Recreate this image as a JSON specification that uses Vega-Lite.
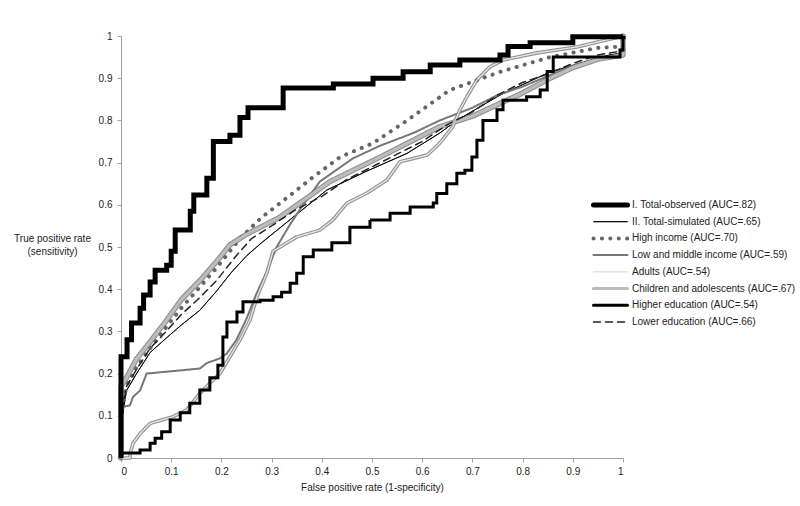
{
  "$schema": "https://vega.github.io/schema/vega-lite/v6.json",
  "width": 502,
  "height": 422,
  "autosize": "none",
  "padding": {"left": 121, "top": 36, "right": 177, "bottom": 48},
  "background": "white",
  "config": {
    "view": {"stroke": null},
    "font": "Liberation Sans",
    "axis": {
      "grid": false,
      "domainColor": "#a0a0a0",
      "tickColor": "#a0a0a0",
      "tickSize": 4,
      "labelColor": "#222",
      "labelFontSize": 10,
      "labelFont": "Liberation Sans",
      "titleFont": "Liberation Sans",
      "titleFontSize": 10,
      "titleFontWeight": "normal",
      "titleColor": "#222"
    }
  },
  "datasets": {
    "roc": [
      {"s": "I. Total-observed (AUC=.82)", "x": 0, "y": 0},
      {"s": "I. Total-observed (AUC=.82)", "x": 0, "y": 0.24},
      {"s": "I. Total-observed (AUC=.82)", "x": 0.012, "y": 0.28},
      {"s": "I. Total-observed (AUC=.82)", "x": 0.021, "y": 0.32},
      {"s": "I. Total-observed (AUC=.82)", "x": 0.038, "y": 0.355},
      {"s": "I. Total-observed (AUC=.82)", "x": 0.045, "y": 0.386},
      {"s": "I. Total-observed (AUC=.82)", "x": 0.058, "y": 0.417},
      {"s": "I. Total-observed (AUC=.82)", "x": 0.068, "y": 0.445},
      {"s": "I. Total-observed (AUC=.82)", "x": 0.091, "y": 0.457},
      {"s": "I. Total-observed (AUC=.82)", "x": 0.1, "y": 0.49},
      {"s": "I. Total-observed (AUC=.82)", "x": 0.108, "y": 0.54},
      {"s": "I. Total-observed (AUC=.82)", "x": 0.138, "y": 0.585},
      {"s": "I. Total-observed (AUC=.82)", "x": 0.145, "y": 0.623},
      {"s": "I. Total-observed (AUC=.82)", "x": 0.171, "y": 0.663},
      {"s": "I. Total-observed (AUC=.82)", "x": 0.184, "y": 0.75},
      {"s": "I. Total-observed (AUC=.82)", "x": 0.217, "y": 0.765},
      {"s": "I. Total-observed (AUC=.82)", "x": 0.237, "y": 0.807},
      {"s": "I. Total-observed (AUC=.82)", "x": 0.253, "y": 0.83},
      {"s": "I. Total-observed (AUC=.82)", "x": 0.323, "y": 0.877},
      {"s": "I. Total-observed (AUC=.82)", "x": 0.423, "y": 0.886},
      {"s": "I. Total-observed (AUC=.82)", "x": 0.502, "y": 0.9},
      {"s": "I. Total-observed (AUC=.82)", "x": 0.562, "y": 0.915},
      {"s": "I. Total-observed (AUC=.82)", "x": 0.616, "y": 0.931},
      {"s": "I. Total-observed (AUC=.82)", "x": 0.675, "y": 0.943},
      {"s": "I. Total-observed (AUC=.82)", "x": 0.755, "y": 0.955},
      {"s": "I. Total-observed (AUC=.82)", "x": 0.771, "y": 0.975},
      {"s": "I. Total-observed (AUC=.82)", "x": 0.815, "y": 0.984},
      {"s": "I. Total-observed (AUC=.82)", "x": 0.9, "y": 0.998},
      {"s": "I. Total-observed (AUC=.82)", "x": 1, "y": 1},

      {"s": "Higher education (AUC=.54)", "x": 0, "y": 0},
      {"s": "Higher education (AUC=.54)", "x": 0, "y": 0.012},
      {"s": "Higher education (AUC=.54)", "x": 0.038, "y": 0.019},
      {"s": "Higher education (AUC=.54)", "x": 0.058, "y": 0.035},
      {"s": "Higher education (AUC=.54)", "x": 0.068, "y": 0.047},
      {"s": "Higher education (AUC=.54)", "x": 0.081, "y": 0.062},
      {"s": "Higher education (AUC=.54)", "x": 0.098, "y": 0.09},
      {"s": "Higher education (AUC=.54)", "x": 0.118, "y": 0.107},
      {"s": "Higher education (AUC=.54)", "x": 0.137, "y": 0.13},
      {"s": "Higher education (AUC=.54)", "x": 0.157, "y": 0.161},
      {"s": "Higher education (AUC=.54)", "x": 0.177, "y": 0.19},
      {"s": "Higher education (AUC=.54)", "x": 0.193, "y": 0.22},
      {"s": "Higher education (AUC=.54)", "x": 0.203, "y": 0.287},
      {"s": "Higher education (AUC=.54)", "x": 0.211, "y": 0.322},
      {"s": "Higher education (AUC=.54)", "x": 0.231, "y": 0.346},
      {"s": "Higher education (AUC=.54)", "x": 0.243, "y": 0.37},
      {"s": "Higher education (AUC=.54)", "x": 0.277, "y": 0.374},
      {"s": "Higher education (AUC=.54)", "x": 0.303, "y": 0.382},
      {"s": "Higher education (AUC=.54)", "x": 0.32, "y": 0.393},
      {"s": "Higher education (AUC=.54)", "x": 0.337, "y": 0.414},
      {"s": "Higher education (AUC=.54)", "x": 0.35, "y": 0.438},
      {"s": "Higher education (AUC=.54)", "x": 0.363, "y": 0.477},
      {"s": "Higher education (AUC=.54)", "x": 0.383, "y": 0.493},
      {"s": "Higher education (AUC=.54)", "x": 0.42, "y": 0.51},
      {"s": "Higher education (AUC=.54)", "x": 0.456, "y": 0.547},
      {"s": "Higher education (AUC=.54)", "x": 0.496, "y": 0.564},
      {"s": "Higher education (AUC=.54)", "x": 0.536, "y": 0.58},
      {"s": "Higher education (AUC=.54)", "x": 0.576, "y": 0.595},
      {"s": "Higher education (AUC=.54)", "x": 0.622, "y": 0.604},
      {"s": "Higher education (AUC=.54)", "x": 0.629, "y": 0.627},
      {"s": "Higher education (AUC=.54)", "x": 0.649, "y": 0.65},
      {"s": "Higher education (AUC=.54)", "x": 0.669, "y": 0.675},
      {"s": "Higher education (AUC=.54)", "x": 0.685, "y": 0.682},
      {"s": "Higher education (AUC=.54)", "x": 0.699, "y": 0.713},
      {"s": "Higher education (AUC=.54)", "x": 0.709, "y": 0.753},
      {"s": "Higher education (AUC=.54)", "x": 0.721, "y": 0.8},
      {"s": "Higher education (AUC=.54)", "x": 0.749, "y": 0.825},
      {"s": "Higher education (AUC=.54)", "x": 0.761, "y": 0.848},
      {"s": "Higher education (AUC=.54)", "x": 0.808, "y": 0.856},
      {"s": "Higher education (AUC=.54)", "x": 0.835, "y": 0.872},
      {"s": "Higher education (AUC=.54)", "x": 0.849, "y": 0.916},
      {"s": "Higher education (AUC=.54)", "x": 0.861, "y": 0.95},
      {"s": "Higher education (AUC=.54)", "x": 0.994, "y": 0.967},
      {"s": "Higher education (AUC=.54)", "x": 1, "y": 1}
    ],
    "lin": [
      {"s": "II. Total-simulated (AUC=.65)", "x": 0, "y": 0},
      {"s": "II. Total-simulated (AUC=.65)", "x": 0, "y": 0.08},
      {"s": "II. Total-simulated (AUC=.65)", "x": 0.011, "y": 0.16},
      {"s": "II. Total-simulated (AUC=.65)", "x": 0.031, "y": 0.2},
      {"s": "II. Total-simulated (AUC=.65)", "x": 0.058, "y": 0.25},
      {"s": "II. Total-simulated (AUC=.65)", "x": 0.091, "y": 0.285},
      {"s": "II. Total-simulated (AUC=.65)", "x": 0.12, "y": 0.315},
      {"s": "II. Total-simulated (AUC=.65)", "x": 0.157, "y": 0.35},
      {"s": "II. Total-simulated (AUC=.65)", "x": 0.19, "y": 0.395},
      {"s": "II. Total-simulated (AUC=.65)", "x": 0.22, "y": 0.44},
      {"s": "II. Total-simulated (AUC=.65)", "x": 0.251, "y": 0.48},
      {"s": "II. Total-simulated (AUC=.65)", "x": 0.28, "y": 0.51},
      {"s": "II. Total-simulated (AUC=.65)", "x": 0.337, "y": 0.565},
      {"s": "II. Total-simulated (AUC=.65)", "x": 0.41, "y": 0.635},
      {"s": "II. Total-simulated (AUC=.65)", "x": 0.49, "y": 0.68},
      {"s": "II. Total-simulated (AUC=.65)", "x": 0.57, "y": 0.722},
      {"s": "II. Total-simulated (AUC=.65)", "x": 0.635, "y": 0.77},
      {"s": "II. Total-simulated (AUC=.65)", "x": 0.669, "y": 0.8},
      {"s": "II. Total-simulated (AUC=.65)", "x": 0.755, "y": 0.86},
      {"s": "II. Total-simulated (AUC=.65)", "x": 0.855, "y": 0.915},
      {"s": "II. Total-simulated (AUC=.65)", "x": 0.974, "y": 0.955},
      {"s": "II. Total-simulated (AUC=.65)", "x": 1, "y": 0.96},
      {"s": "II. Total-simulated (AUC=.65)", "x": 1, "y": 1},

      {"s": "High income (AUC=.70)", "x": 0, "y": 0},
      {"s": "High income (AUC=.70)", "x": 0, "y": 0.1},
      {"s": "High income (AUC=.70)", "x": 0.011, "y": 0.17},
      {"s": "High income (AUC=.70)", "x": 0.031, "y": 0.215},
      {"s": "High income (AUC=.70)", "x": 0.058, "y": 0.26},
      {"s": "High income (AUC=.70)", "x": 0.09, "y": 0.31},
      {"s": "High income (AUC=.70)", "x": 0.12, "y": 0.355},
      {"s": "High income (AUC=.70)", "x": 0.157, "y": 0.405},
      {"s": "High income (AUC=.70)", "x": 0.19, "y": 0.45},
      {"s": "High income (AUC=.70)", "x": 0.237, "y": 0.52},
      {"s": "High income (AUC=.70)", "x": 0.28, "y": 0.57},
      {"s": "High income (AUC=.70)", "x": 0.317, "y": 0.604},
      {"s": "High income (AUC=.70)", "x": 0.383, "y": 0.666},
      {"s": "High income (AUC=.70)", "x": 0.436, "y": 0.713},
      {"s": "High income (AUC=.70)", "x": 0.502, "y": 0.746},
      {"s": "High income (AUC=.70)", "x": 0.57, "y": 0.8},
      {"s": "High income (AUC=.70)", "x": 0.655, "y": 0.872},
      {"s": "High income (AUC=.70)", "x": 0.755, "y": 0.915},
      {"s": "High income (AUC=.70)", "x": 0.855, "y": 0.95},
      {"s": "High income (AUC=.70)", "x": 0.95, "y": 0.972},
      {"s": "High income (AUC=.70)", "x": 1, "y": 0.975},
      {"s": "High income (AUC=.70)", "x": 1, "y": 1},

      {"s": "Low and middle income (AUC=.59)", "x": 0, "y": 0},
      {"s": "Low and middle income (AUC=.59)", "x": 0, "y": 0.12},
      {"s": "Low and middle income (AUC=.59)", "x": 0.018, "y": 0.125},
      {"s": "Low and middle income (AUC=.59)", "x": 0.024, "y": 0.145},
      {"s": "Low and middle income (AUC=.59)", "x": 0.038, "y": 0.16},
      {"s": "Low and middle income (AUC=.59)", "x": 0.051, "y": 0.2},
      {"s": "Low and middle income (AUC=.59)", "x": 0.157, "y": 0.212},
      {"s": "Low and middle income (AUC=.59)", "x": 0.171, "y": 0.225},
      {"s": "Low and middle income (AUC=.59)", "x": 0.197, "y": 0.236},
      {"s": "Low and middle income (AUC=.59)", "x": 0.211, "y": 0.248},
      {"s": "Low and middle income (AUC=.59)", "x": 0.23, "y": 0.28},
      {"s": "Low and middle income (AUC=.59)", "x": 0.25, "y": 0.33},
      {"s": "Low and middle income (AUC=.59)", "x": 0.27, "y": 0.39},
      {"s": "Low and middle income (AUC=.59)", "x": 0.29, "y": 0.44},
      {"s": "Low and middle income (AUC=.59)", "x": 0.31, "y": 0.5},
      {"s": "Low and middle income (AUC=.59)", "x": 0.335, "y": 0.55},
      {"s": "Low and middle income (AUC=.59)", "x": 0.357, "y": 0.59},
      {"s": "Low and middle income (AUC=.59)", "x": 0.396, "y": 0.655},
      {"s": "Low and middle income (AUC=.59)", "x": 0.462, "y": 0.71},
      {"s": "Low and middle income (AUC=.59)", "x": 0.516, "y": 0.74},
      {"s": "Low and middle income (AUC=.59)", "x": 0.582, "y": 0.77},
      {"s": "Low and middle income (AUC=.59)", "x": 0.635, "y": 0.8},
      {"s": "Low and middle income (AUC=.59)", "x": 0.7, "y": 0.83},
      {"s": "Low and middle income (AUC=.59)", "x": 0.75, "y": 0.86},
      {"s": "Low and middle income (AUC=.59)", "x": 0.8, "y": 0.88},
      {"s": "Low and middle income (AUC=.59)", "x": 0.9, "y": 0.93},
      {"s": "Low and middle income (AUC=.59)", "x": 1, "y": 0.96},
      {"s": "Low and middle income (AUC=.59)", "x": 1, "y": 1},

      {"s": "Adults (AUC=.54)", "x": 0, "y": 0},
      {"s": "Adults (AUC=.54)", "x": 0.018, "y": 0},
      {"s": "Adults (AUC=.54)", "x": 0.018, "y": 0.01},
      {"s": "Adults (AUC=.54)", "x": 0.024, "y": 0.035},
      {"s": "Adults (AUC=.54)", "x": 0.038, "y": 0.058},
      {"s": "Adults (AUC=.54)", "x": 0.058, "y": 0.082},
      {"s": "Adults (AUC=.54)", "x": 0.081, "y": 0.09},
      {"s": "Adults (AUC=.54)", "x": 0.104, "y": 0.098},
      {"s": "Adults (AUC=.54)", "x": 0.131, "y": 0.114},
      {"s": "Adults (AUC=.54)", "x": 0.157, "y": 0.153},
      {"s": "Adults (AUC=.54)", "x": 0.177, "y": 0.177},
      {"s": "Adults (AUC=.54)", "x": 0.197, "y": 0.2},
      {"s": "Adults (AUC=.54)", "x": 0.217, "y": 0.24},
      {"s": "Adults (AUC=.54)", "x": 0.237, "y": 0.28},
      {"s": "Adults (AUC=.54)", "x": 0.257, "y": 0.327},
      {"s": "Adults (AUC=.54)", "x": 0.271, "y": 0.382},
      {"s": "Adults (AUC=.54)", "x": 0.291, "y": 0.44},
      {"s": "Adults (AUC=.54)", "x": 0.303, "y": 0.49},
      {"s": "Adults (AUC=.54)", "x": 0.35, "y": 0.524},
      {"s": "Adults (AUC=.54)", "x": 0.396, "y": 0.54},
      {"s": "Adults (AUC=.54)", "x": 0.422, "y": 0.564},
      {"s": "Adults (AUC=.54)", "x": 0.45, "y": 0.604},
      {"s": "Adults (AUC=.54)", "x": 0.49, "y": 0.628},
      {"s": "Adults (AUC=.54)", "x": 0.53, "y": 0.659},
      {"s": "Adults (AUC=.54)", "x": 0.556, "y": 0.702},
      {"s": "Adults (AUC=.54)", "x": 0.61, "y": 0.718},
      {"s": "Adults (AUC=.54)", "x": 0.635, "y": 0.746},
      {"s": "Adults (AUC=.54)", "x": 0.661, "y": 0.785},
      {"s": "Adults (AUC=.54)", "x": 0.675, "y": 0.825},
      {"s": "Adults (AUC=.54)", "x": 0.689, "y": 0.856},
      {"s": "Adults (AUC=.54)", "x": 0.709, "y": 0.896},
      {"s": "Adults (AUC=.54)", "x": 0.735, "y": 0.927},
      {"s": "Adults (AUC=.54)", "x": 0.761, "y": 0.943},
      {"s": "Adults (AUC=.54)", "x": 0.829, "y": 0.96},
      {"s": "Adults (AUC=.54)", "x": 0.908, "y": 0.974},
      {"s": "Adults (AUC=.54)", "x": 0.994, "y": 0.998},
      {"s": "Adults (AUC=.54)", "x": 1, "y": 1},

      {"s": "Children and adolescents (AUC=.67)", "x": 0, "y": 0},
      {"s": "Children and adolescents (AUC=.67)", "x": 0, "y": 0.17},
      {"s": "Children and adolescents (AUC=.67)", "x": 0.011, "y": 0.19},
      {"s": "Children and adolescents (AUC=.67)", "x": 0.031, "y": 0.235},
      {"s": "Children and adolescents (AUC=.67)", "x": 0.058, "y": 0.275},
      {"s": "Children and adolescents (AUC=.67)", "x": 0.09, "y": 0.325},
      {"s": "Children and adolescents (AUC=.67)", "x": 0.12, "y": 0.375},
      {"s": "Children and adolescents (AUC=.67)", "x": 0.157, "y": 0.42},
      {"s": "Children and adolescents (AUC=.67)", "x": 0.19, "y": 0.465},
      {"s": "Children and adolescents (AUC=.67)", "x": 0.217, "y": 0.505},
      {"s": "Children and adolescents (AUC=.67)", "x": 0.25, "y": 0.53},
      {"s": "Children and adolescents (AUC=.67)", "x": 0.317, "y": 0.571},
      {"s": "Children and adolescents (AUC=.67)", "x": 0.416, "y": 0.655},
      {"s": "Children and adolescents (AUC=.67)", "x": 0.516, "y": 0.713},
      {"s": "Children and adolescents (AUC=.67)", "x": 0.635, "y": 0.785},
      {"s": "Children and adolescents (AUC=.67)", "x": 0.7, "y": 0.81},
      {"s": "Children and adolescents (AUC=.67)", "x": 0.8, "y": 0.865},
      {"s": "Children and adolescents (AUC=.67)", "x": 0.855, "y": 0.9},
      {"s": "Children and adolescents (AUC=.67)", "x": 0.9, "y": 0.925},
      {"s": "Children and adolescents (AUC=.67)", "x": 0.95, "y": 0.945},
      {"s": "Children and adolescents (AUC=.67)", "x": 1, "y": 0.955},
      {"s": "Children and adolescents (AUC=.67)", "x": 1, "y": 1},

      {"s": "Lower education (AUC=.66)", "x": 0, "y": 0},
      {"s": "Lower education (AUC=.66)", "x": 0, "y": 0.1},
      {"s": "Lower education (AUC=.66)", "x": 0.011, "y": 0.17},
      {"s": "Lower education (AUC=.66)", "x": 0.031, "y": 0.21},
      {"s": "Lower education (AUC=.66)", "x": 0.058, "y": 0.26},
      {"s": "Lower education (AUC=.66)", "x": 0.09, "y": 0.3},
      {"s": "Lower education (AUC=.66)", "x": 0.12, "y": 0.34},
      {"s": "Lower education (AUC=.66)", "x": 0.157, "y": 0.38},
      {"s": "Lower education (AUC=.66)", "x": 0.19, "y": 0.42},
      {"s": "Lower education (AUC=.66)", "x": 0.23, "y": 0.48},
      {"s": "Lower education (AUC=.66)", "x": 0.26, "y": 0.52},
      {"s": "Lower education (AUC=.66)", "x": 0.3, "y": 0.55},
      {"s": "Lower education (AUC=.66)", "x": 0.35, "y": 0.59},
      {"s": "Lower education (AUC=.66)", "x": 0.4, "y": 0.62},
      {"s": "Lower education (AUC=.66)", "x": 0.45, "y": 0.66},
      {"s": "Lower education (AUC=.66)", "x": 0.5, "y": 0.69},
      {"s": "Lower education (AUC=.66)", "x": 0.55, "y": 0.72},
      {"s": "Lower education (AUC=.66)", "x": 0.6, "y": 0.75},
      {"s": "Lower education (AUC=.66)", "x": 0.65, "y": 0.79},
      {"s": "Lower education (AUC=.66)", "x": 0.7, "y": 0.82},
      {"s": "Lower education (AUC=.66)", "x": 0.75, "y": 0.86},
      {"s": "Lower education (AUC=.66)", "x": 0.8, "y": 0.89},
      {"s": "Lower education (AUC=.66)", "x": 0.85, "y": 0.91},
      {"s": "Lower education (AUC=.66)", "x": 0.9, "y": 0.935},
      {"s": "Lower education (AUC=.66)", "x": 0.95, "y": 0.955},
      {"s": "Lower education (AUC=.66)", "x": 1, "y": 0.965},
      {"s": "Lower education (AUC=.66)", "x": 1, "y": 1}
    ]
  },
  "encoding": {
    "x": {
      "field": "x", "type": "quantitative",
      "scale": {"domain": [0, 1], "nice": false},
      "axis": {"values": [0, 0.1, 0.2, 0.3, 0.4, 0.5, 0.6, 0.7, 0.8, 0.9, 1], "format": "~g", "title": "False positive rate (1-specificity)", "labelPadding": 4, "titlePadding": 6}
    },
    "y": {
      "field": "y", "type": "quantitative",
      "scale": {"domain": [0, 1], "nice": false},
      "axis": {"values": [0, 0.1, 0.2, 0.3, 0.4, 0.5, 0.6, 0.7, 0.8, 0.9, 1], "format": "~g", "title": ["True positive rate", "(sensitivity)"], "titleAngle": 0, "titleAlign": "center", "titleBaseline": "top", "titleX": -69, "titleY": 197, "titleLineHeight": 13, "labelPadding": 5}
    },
    "order": {"value": null}
  },
  "layer": [
    {
      "data": {"name": "lin"},
      "transform": [{"filter": "datum.s === 'Adults (AUC=.54)'"}],
      "mark": {"type": "line", "color": "#909090", "strokeWidth": 3.6, "strokeJoin": "round", "strokeCap": "round"}
    },
    {
      "data": {"name": "lin"},
      "transform": [{"filter": "datum.s === 'Children and adolescents (AUC=.67)'"}],
      "mark": {"type": "line", "color": "#909090", "strokeWidth": 5.4, "strokeJoin": "round", "strokeCap": "round"}
    },
    {
      "data": {"name": "lin"},
      "mark": {"type": "line", "strokeJoin": "round", "strokeCap": "round"},
      "encoding": {
        "color": {"field": "s", "type": "nominal", "scale": {"domain": ["I. Total-observed (AUC=.82)", "II. Total-simulated (AUC=.65)", "High income (AUC=.70)", "Low and middle income (AUC=.59)", "Adults (AUC=.54)", "Children and adolescents (AUC=.67)", "Higher education (AUC=.54)", "Lower education (AUC=.66)"], "range": ["#000000", "#000000", "#666666", "#777777", "#e4e4e4", "#bcbcbc", "#000000", "#222222"]},
          "legend": {"title": null, "orient": "none", "legendX": 470, "legendY": 161, "symbolType": "stroke", "symbolSize": 1156, "clipHeight": 16, "rowPadding": 0.7, "labelFontSize": 10, "labelFont": "Liberation Sans", "labelColor": "#222", "labelOffset": 2, "labelLimit": 300, "encode": {"symbols": {"update": {"strokeCap": {"value": "round"}}}}}},
        "strokeWidth": {"field": "s", "type": "nominal", "scale": {"type": "ordinal", "domain": ["I. Total-observed (AUC=.82)", "II. Total-simulated (AUC=.65)", "High income (AUC=.70)", "Low and middle income (AUC=.59)", "Adults (AUC=.54)", "Children and adolescents (AUC=.67)", "Higher education (AUC=.54)", "Lower education (AUC=.66)"], "range": [5, 1, 4, 2, 1.4, 3.2, 3, 1.5]}},
        "strokeDash": {"field": "s", "type": "nominal", "scale": {"domain": ["I. Total-observed (AUC=.82)", "II. Total-simulated (AUC=.65)", "High income (AUC=.70)", "Low and middle income (AUC=.59)", "Adults (AUC=.54)", "Children and adolescents (AUC=.67)", "Higher education (AUC=.54)", "Lower education (AUC=.66)"], "range": [[1, 0], [1, 0], [0.1, 8.3], [1, 0], [1, 0], [1, 0], [1, 0], [7, 5]]}}
      }
    },
    {
      "data": {"name": "roc"},
      "mark": {"type": "line", "interpolate": "step-after", "strokeJoin": "miter"},
      "encoding": {
        "color": {"field": "s", "type": "nominal", "scale": {"domain": ["I. Total-observed (AUC=.82)", "II. Total-simulated (AUC=.65)", "High income (AUC=.70)", "Low and middle income (AUC=.59)", "Adults (AUC=.54)", "Children and adolescents (AUC=.67)", "Higher education (AUC=.54)", "Lower education (AUC=.66)"], "range": ["#000000", "#000000", "#666666", "#777777", "#e4e4e4", "#bcbcbc", "#000000", "#222222"]},
          "legend": {"title": null, "orient": "none", "legendX": 470, "legendY": 161, "symbolType": "stroke", "symbolSize": 1156, "clipHeight": 16, "rowPadding": 0.7, "labelFontSize": 10, "labelFont": "Liberation Sans", "labelColor": "#222", "labelOffset": 2, "labelLimit": 300, "encode": {"symbols": {"update": {"strokeCap": {"value": "round"}}}}}},
        "strokeWidth": {"field": "s", "type": "nominal", "scale": {"type": "ordinal", "domain": ["I. Total-observed (AUC=.82)", "II. Total-simulated (AUC=.65)", "High income (AUC=.70)", "Low and middle income (AUC=.59)", "Adults (AUC=.54)", "Children and adolescents (AUC=.67)", "Higher education (AUC=.54)", "Lower education (AUC=.66)"], "range": [5, 1, 4, 2, 1.4, 3.2, 3, 1.5]}},
        "strokeDash": {"field": "s", "type": "nominal", "scale": {"domain": ["I. Total-observed (AUC=.82)", "II. Total-simulated (AUC=.65)", "High income (AUC=.70)", "Low and middle income (AUC=.59)", "Adults (AUC=.54)", "Children and adolescents (AUC=.67)", "Higher education (AUC=.54)", "Lower education (AUC=.66)"], "range": [[1, 0], [1, 0], [0.1, 8.3], [1, 0], [1, 0], [1, 0], [1, 0], [7, 5]]}}
      }
    }
  ]
}
